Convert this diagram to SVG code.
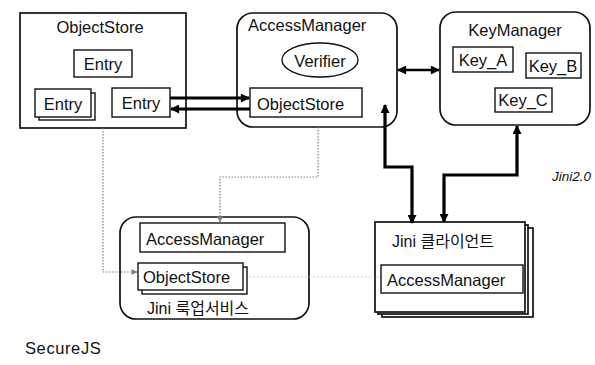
<svg xmlns="http://www.w3.org/2000/svg" width="595" height="365" viewBox="0 0 595 365">
<defs>
<style>
.box{fill:#fff;stroke:#111;stroke-width:1.7}
.inner{fill:#fff;stroke:#111;stroke-width:1.4}
text{font-family:"Liberation Sans",Arial,sans-serif;font-size:16.5px;fill:#111}
.kr{font-family:"Liberation Sans","Noto Sans CJK KR",sans-serif;font-size:16px}
.mid{text-anchor:middle}
.thick{fill:none;stroke:#000;stroke-width:3.2}
.dbl{fill:none;stroke:#000;stroke-width:2.5}
.dot{fill:none;stroke:#808080;stroke-width:1.2;stroke-dasharray:1.5 1.5}
.faint{fill:none;stroke:#c4c4c4;stroke-width:1.1;stroke-dasharray:1.5 2.5}
</style>
<marker id="ah" viewBox="0 0 10 10" refX="9" refY="5" markerWidth="10" markerHeight="9" markerUnits="userSpaceOnUse" orient="auto-start-reverse">
<path d="M0,0 L10,5 L0,10 z" fill="#000"/>
</marker>
<marker id="ahg" viewBox="0 0 10 10" refX="9" refY="5" markerWidth="7" markerHeight="6" markerUnits="userSpaceOnUse" orient="auto">
<path d="M0,0 L10,5 L0,10 z" fill="#808080"/>
</marker>
</defs>

<g id="objectstore">
<rect class="box" x="20" y="13" width="166" height="115"/>
<text class="mid" x="100" y="33">ObjectStore</text>
<rect class="inner" x="74" y="50" width="58" height="27"/>
<text class="mid" x="103" y="70">Entry</text>
<rect class="inner" x="39" y="93" width="56" height="27"/>
<rect class="inner" x="35" y="89" width="56" height="28"/>
<text class="mid" x="63" y="110">Entry</text>
<rect class="inner" x="112" y="88" width="58" height="29"/>
<text class="mid" x="141" y="109">Entry</text>
</g>

<g id="accessmanager">
<rect class="box" x="237" y="13" width="160" height="114" rx="16"/>
<text x="248" y="31">AccessManager</text>
<ellipse class="inner" cx="320" cy="60" rx="38" ry="17"/>
<text class="mid" x="320" y="67">Verifier</text>
<rect class="inner" x="250" y="88" width="112" height="29"/>
<text x="257" y="110">ObjectStore</text>
</g>

<g id="keymanager">
<rect class="box" x="440" y="12" width="150" height="113" rx="16"/>
<text class="mid" x="515" y="36">KeyManager</text>
<rect class="inner" x="453" y="47" width="60" height="25"/>
<text class="mid" x="483" y="66">Key_A</text>
<rect class="inner" x="526" y="53" width="55" height="25"/>
<text class="mid" x="553" y="72">Key_B</text>
<rect class="inner" x="495" y="88" width="57" height="24"/>
<text class="mid" x="523" y="106">Key_C</text>
</g>

<g id="lookup">
<rect class="box" x="120" y="217" width="189" height="102" rx="16"/>
<rect class="inner" x="140" y="223" width="145" height="29"/>
<text x="146" y="245">AccessManager</text>
<rect class="inner" x="142" y="267" width="105" height="27"/>
<rect class="inner" x="138" y="263" width="105" height="27"/>
<text x="143" y="283">ObjectStore</text>
<text class="kr" x="147" y="314">Jini 룩업서비스</text>
</g>

<g id="client">
<rect class="box" x="382" y="228" width="151" height="89"/>
<rect class="box" x="378" y="225" width="150" height="89"/>
<rect class="box" x="375" y="222" width="150" height="90"/>
<text class="kr" x="392" y="247">Jini 클라이언트</text>
<rect class="inner" x="381" y="265" width="142" height="28"/>
<text x="387" y="286">AccessManager</text>
</g>

<g id="labels">
<text x="552" y="181" style="font-size:13.5px;font-style:italic">Jini2.0</text>
<text x="25" y="354" style="letter-spacing:0.6px">SecureJS</text>
</g>

<g id="connectors">
<path class="thick" d="M170,98 H249" marker-end="url(#ah)"/>
<path class="thick" d="M250,109 H171" marker-end="url(#ah)"/>
<path class="dbl" d="M398,70 H439" marker-start="url(#ah)" marker-end="url(#ah)"/>
<path class="thick" d="M385,105 V167 H412 V223" marker-start="url(#ah)" marker-end="url(#ah)"/>
<path class="thick" d="M517,126 V175 H444 V222" marker-start="url(#ah)" marker-end="url(#ah)"/>
<path class="dot" d="M103,128 V272 H137" marker-end="url(#ahg)"/>
<path class="dot" d="M318,127 V177 H220 V222" marker-end="url(#ahg)"/>
<path class="faint" d="M249,277 H380"/>
</g>
</svg>
